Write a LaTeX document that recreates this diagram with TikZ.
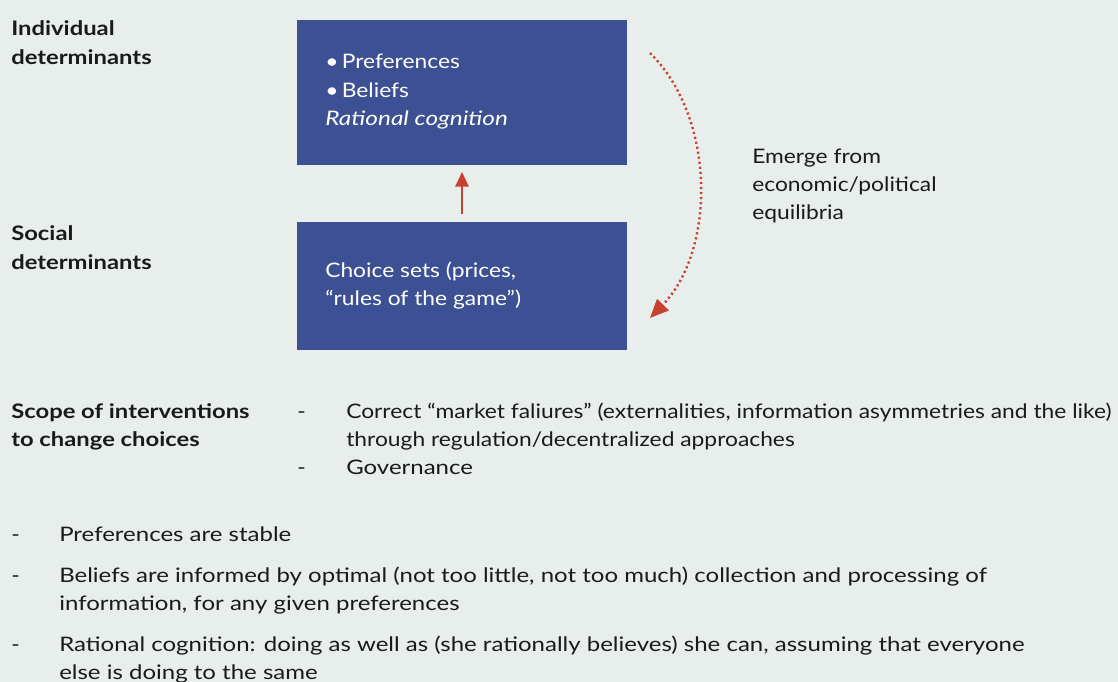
\documentclass[tikz,border=0pt]{standalone}
\usepackage{fontspec}
\setmainfont{Lato}[FakeStretch=1.14,BoldFeatures={FakeStretch=1.19},ItalicFeatures={FakeStretch=1.22}]
\newfontfamily\widefont{Lato}[FakeStretch=1.2]
\usetikzlibrary{arrows.meta}
\definecolor{bg}{HTML}{E8EEEB}
\definecolor{boxblue}{HTML}{3C5093}
\definecolor{arrred}{HTML}{C8412F}
\definecolor{txt}{HTML}{1A1A1A}
\begin{document}
\begin{tikzpicture}[x=0.75pt,y=-0.75pt,
  lbl/.style={anchor=base west,inner sep=0pt,font=\fontsize{15}{21}\selectfont,text=txt},
  wlbl/.style={lbl,font=\fontsize{15}{21}\selectfont\widefont},
  hd/.style={lbl,font=\fontsize{15}{21}\selectfont\bfseries},
  intxt/.style={lbl,text=white},
  bluebox/.style={fill=boxblue,draw=none,inner sep=0pt}]
\fill[bg] (0,0) rectangle (1118,682);
\useasboundingbox (0,0) rectangle (1118,682);
% boxes
\node[bluebox,minimum width=330*0.75pt,minimum height=145*0.75pt,anchor=north west] (b1) at (297,20) {};
\node[bluebox,minimum width=330*0.75pt,minimum height=128*0.75pt,anchor=north west] (b2) at (297,222) {};
% headings
\node[hd] (h1a) at (11,35) {Individual};
\node[hd] (h1b) at (11,64) {determinants};
\node[hd] (h2a) at (11,240) {Social};
\node[hd] (h2b) at (11,269) {determinants};
\node[hd] (h3a) at (11,418) {Scope of interventions};
\node[hd] (h3b) at (11,446) {to change choices};
% box texts
\node[intxt] (t1) at (325,68) {•\,Preferences};
\node[intxt] (t2) at (325,97) {•\,Beliefs};
\node[intxt] (t3) at (325,125) {\itshape Rational cognition};
\node[intxt] (t4) at (325,277) {Choice sets (prices,};
\node[intxt] (t5) at (325,305) {“rules of the game”)};
% emerge
\node[lbl] (e1) at (752,163) {Emerge from};
\node[lbl] (e2) at (752,191) {economic/political};
\node[lbl] (e3) at (752,219) {equilibria};
% interventions
\node[lbl] (d1) at (297,418) {-};
\node[lbl] (s1) at (346,418) {Correct “market faliures” (externalities, information asymmetries and the like)};
\node[lbl] (s2) at (346,446) {through regulation/decentralized approaches};
\node[lbl] (d2) at (297,474) {-};
\node[wlbl] (s3) at (346,474) {Governance};
% bottom list
\node[lbl] (m1) at (11,541) {-};
\node[wlbl] (p1) at (59,541) {Preferences are stable};
\node[lbl] (m2) at (11,582) {-};
\node[wlbl] (p2) at (59,582) {Beliefs are informed by optimal (not too little, not too much) collection and processing of};
\node[wlbl] (p2b) at (59,610) {information, for any given preferences};
\node[lbl] (m3) at (11,651) {-};
\node[wlbl] (p3) at (59,651) {Rational cognition: doing as well as (she rationally believes) she can, assuming that everyone};
\node[wlbl] (p3b) at (59,679) {else is doing to the same};
% arrows
\coordinate (ua) at (462,214);
\coordinate (ub) at (462,172);
\draw[arrred,line width=1.5pt,-{Triangle[length=11pt,width=10pt]}] (ua) -- (ub);
\coordinate (ca) at (650,53);
\coordinate (cb) at (650,318);
\draw[arrred,line width=1.8pt,dash pattern=on 1.6pt off 2.2pt,-{Triangle[length=14pt,width=12pt]}] (ca) .. controls (716,118) and (716,250) .. (cb);
\end{tikzpicture}
\end{document}
